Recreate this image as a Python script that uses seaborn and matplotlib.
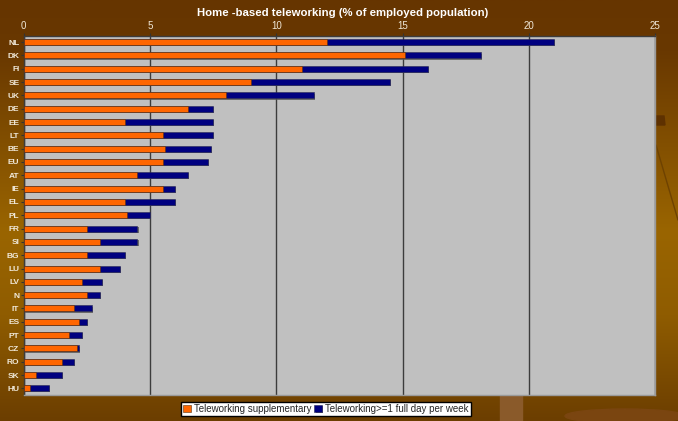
import numpy as np
import pandas as pd
import matplotlib
matplotlib.use("Agg")
import matplotlib.pyplot as plt
import matplotlib.patches as mpatches
import matplotlib.patheffects as pe
from matplotlib.colors import LinearSegmentedColormap
import seaborn as sns

# values
countries = ["NL", "DK", "FI", "SE", "UK", "DE", "EE", "LT", "BE", "EU", "AT", "IE", "EL", "PL",
             "FR", "SI", "BG", "LU", "LV", "N", "IT", "ES", "PT", "CZ", "RO", "SK", "HU"]
supplementary = [12, 15.1, 11, 9, 8, 6.5, 4, 5.5, 5.6, 5.5, 4.5, 5.5, 4, 4.1,
                 2.5, 3, 2.5, 3, 2.3, 2.5, 2, 2.2, 1.8, 2.1, 1.5, 0.5, 0.25]
full_day = [9, 3, 5, 5.5, 3.5, 1, 3.5, 2, 1.8, 1.8, 2, 0.5, 2, 0.9,
            2, 1.5, 1.5, 0.8, 0.8, 0.5, 0.7, 0.3, 0.5, 0.1, 0.5, 1, 0.75]
xticks = [0, 5, 10, 15, 20, 25]

df = pd.DataFrame({"country": countries, "supp": supplementary, "full": full_day})
df["total"] = df["supp"] + df["full"]

sns.set_style("white")
plt.rcParams["font.family"] = ["Liberation Sans", "DejaVu Sans"]

W, H = 678, 421
fig = plt.figure(figsize=(W / 100, H / 100), dpi=100)

# brown backdrop
bg = fig.add_axes([0, 0, 1, 1], zorder=0)
cmap = LinearSegmentedColormap.from_list("slide", [(0, "#663500"), (0.12, "#693800"), (0.55, "#9a6500"),
                                                   (0.75, "#8f5c00"), (1, "#6c3e00")])
bg.imshow(np.linspace(0, 1, 256).reshape(-1, 1), aspect="auto", cmap=cmap, extent=[0, W, H, 0])
bg.add_patch(mpatches.Rectangle((500, 395), 22, 26, color="#8a5a2a"))
bg.add_patch(mpatches.Ellipse((625, 416), 120, 14, color="#7a4510"))
bg.add_patch(mpatches.Polygon([(655, 116), (664, 116), (665, 125), (655, 125)], color="#5e3100"))
bg.plot([656, 678], [145, 220], color="#6e4200", lw=1)
bg.set_xlim(0, W)
bg.set_ylim(H, 0)
bg.axis("off")

ax = fig.add_axes([23.8 / W, 1 - 395 / H, 631.5 / W, 359.5 / H], zorder=1, facecolor="#c0c0c0")

shadow = [pe.SimplePatchShadow(offset=(0.8, -0.8), shadow_rgbFace="#555555", alpha=0.8), pe.Normal()]
sns.barplot(data=df, y="country", x="total", color="#000080", width=0.45, saturation=1, ax=ax,
            label="Teleworking>=1 full day per week", edgecolor="#2a2a55", linewidth=0.4, zorder=3)
sns.barplot(data=df, y="country", x="supp", color="#ff6600", width=0.45, saturation=1, ax=ax,
            label="Teleworking supplementary", edgecolor="#553311", linewidth=0.4, zorder=4)
for bar in ax.patches[:len(countries)]:
    bar.set_path_effects(shadow)

ax.set_xlim(0, 25)
ax.set_xticks(xticks)
ax.set_xlabel("")
ax.set_ylabel("")
ax.xaxis.tick_top()
ax.grid(axis="x", color="#3c3c3c", lw=1, zorder=1)
ax.set_axisbelow(True)
ax.tick_params(axis="x", length=2, pad=1.5, labelsize=7, colors="#333333", labelcolor="#f0e8d8", top=True)
ax.tick_params(axis="y", length=2, pad=1.2, labelsize=6, colors="#333333", labelcolor="#f0e8d8", left=True)
for lab in ax.get_yticklabels():
    lab.set_fontweight("bold")
for side in ["top", "left"]:
    ax.spines[side].set_color("#3c3c3c")
    ax.spines[side].set_linewidth(1)
for side in ["bottom", "right"]:
    ax.spines[side].set_color("#9a9a9a")
    ax.spines[side].set_linewidth(1)

# title sits a little higher than in the source so it clears the 10 and 15 tick labels
fig.text(343 / W, 1 - 13.5 / H, "Home -based teleworking (% of employed population)", color="white",
         fontsize=8.2, fontweight="bold", ha="center", va="center", zorder=5)

handles, labels = ax.get_legend_handles_labels()
ax.get_legend().remove()
leg = fig.legend(handles[::-1], labels[::-1], loc="center", bbox_to_anchor=(326 / W, 1 - 409 / H), ncol=2,
                 fontsize=7, frameon=True, fancybox=False, framealpha=1, facecolor="white", edgecolor="black",
                 borderpad=0.22, handlelength=0.8, handleheight=0.8, handletextpad=0.3, columnspacing=0.3,
                 borderaxespad=0)
leg.set_zorder(6)

fig.savefig("out.png", dpi=100)
